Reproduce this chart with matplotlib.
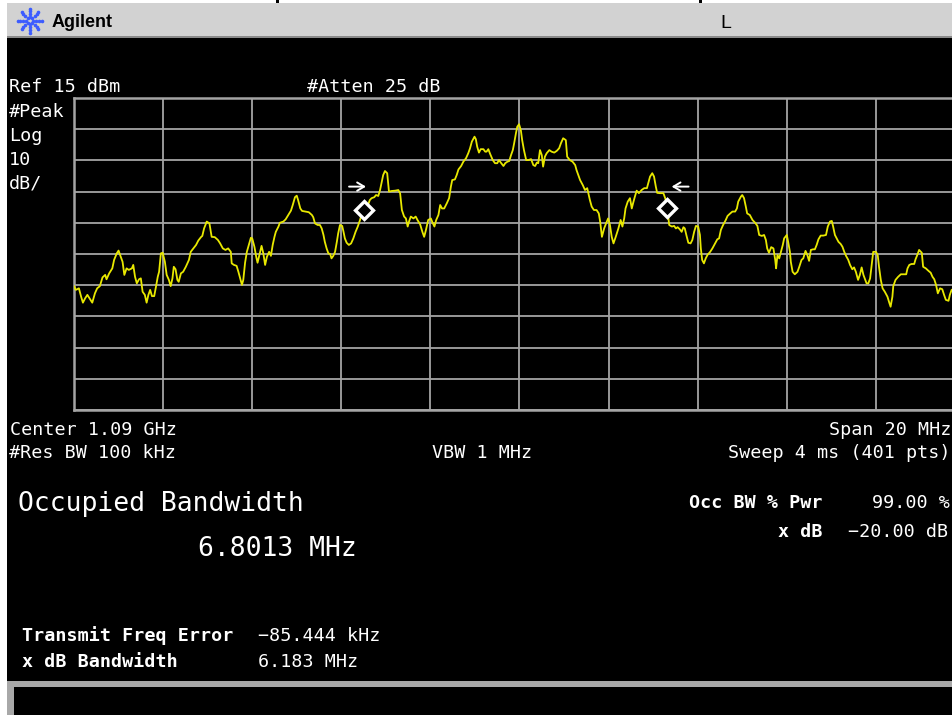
import numpy as np
import matplotlib
matplotlib.use("Agg")
import matplotlib.pyplot as plt
from matplotlib.patches import Rectangle
from matplotlib.lines import Line2D

# instrument settings (from the screen annotations)
center_ghz = 1.09
span_mhz = 20
ref_dbm = 15
db_per_div = 10
occ_bw_mhz = 6.8013
freq_err_khz = -85.444
xdb_bw_mhz = 6.183

# trace: offset from center (MHz) and level (dBm)
freq_mhz = [
    -10.00, -9.96, -9.89, -9.84, -9.80, -9.75, -9.70, -9.64, -9.59, -9.53,
    -9.48, -9.42, -9.36, -9.30, -9.27, -9.21, -9.14, -9.10, -9.04, -9.00,
    -8.95, -8.91, -8.87, -8.82, -8.77, -8.70, -8.67, -8.63, -8.59, -8.54,
    -8.50, -8.46, -8.41, -8.37, -8.33, -8.29, -8.25, -8.20, -8.16, -8.12,
    -8.09, -8.05, -8.01, -7.96, -7.92, -7.87, -7.83, -7.79, -7.76, -7.72,
    -7.68, -7.65, -7.60, -7.55, -7.49, -7.42, -7.38, -7.32, -7.26, -7.21,
    -7.15, -7.12, -7.08, -7.02, -6.96, -6.91, -6.84, -6.77, -6.72, -6.66,
    -6.60, -6.54, -6.48, -6.46, -6.41, -6.35, -6.31, -6.27, -6.23, -6.20,
    -6.16, -6.12, -6.07,
    -6.03, -6.00, -5.95, -5.91, -5.88, -5.83, -5.79, -5.75, -5.71, -5.67,
    -5.62, -5.58, -5.54, -5.50, -5.47, -5.41, -5.38, -5.30, -5.25, -5.19,
    -5.13, -5.09, -5.04, -5.00, -4.97, -4.92, -4.88, -4.81, -4.73, -4.66,
    -4.63, -4.59, -4.53, -4.48, -4.44, -4.40, -4.37, -4.33, -4.29, -4.25,
    -4.22, -4.18, -4.14, -4.10, -4.07, -4.03, -3.98, -3.95, -3.92, -3.88,
    -3.83, -3.78, -3.73, -3.68, -3.63, -3.58, -3.54, -3.47, -3.41, -3.36,
    -3.32, -3.26, -3.22, -3.17, -3.13, -3.09, -3.06, -3.02, -2.97, -2.93,
    -2.87, -2.79, -2.72, -2.68, -2.64, -2.59, -2.55, -2.51, -2.48, -2.44,
    -2.38, -2.33, -2.29, -2.23, -2.18, -2.14,
    -2.10, -2.05, -1.99, -1.95, -1.91, -1.87, -1.82, -1.78, -1.74, -1.69,
    -1.63, -1.58, -1.54, -1.51, -1.45, -1.41, -1.37, -1.31, -1.26, -1.20,
    -1.15, -1.11, -1.07, -1.01, -0.98, -0.95, -0.91, -0.87, -0.81, -0.77,
    -0.74, -0.70, -0.66, -0.60, -0.55, -0.50, -0.46, -0.42, -0.36, -0.32,
    -0.27, -0.23, -0.19, -0.15, -0.12, -0.08, -0.05, -0.01, 0.03, 0.06,
    0.10, 0.15, 0.20, 0.26, 0.31, 0.35, 0.39, 0.42, 0.46, 0.50,
    0.53, 0.57, 0.61, 0.67, 0.72, 0.78, 0.84, 0.89, 0.93, 0.98,
    1.04, 1.07, 1.13, 1.19, 1.25, 1.28, 1.32, 1.36, 1.42, 1.47,
    1.52, 1.58, 1.62, 1.67, 1.73, 1.78,
    1.81, 1.85, 1.90, 1.96, 1.99, 2.03, 2.07, 2.11, 2.16, 2.22,
    2.27, 2.31, 2.35, 2.38, 2.43, 2.48, 2.52, 2.55, 2.59, 2.63,
    2.68, 2.74, 2.80, 2.86, 2.89, 2.93, 2.98, 3.02, 3.06, 3.09,
    3.15, 3.23, 3.27, 3.30, 3.33, 3.36, 3.42, 3.47, 3.51, 3.55,
    3.60, 3.64, 3.68, 3.71, 3.75, 3.79, 3.84, 3.88, 3.92, 3.96,
    4.01, 4.05, 4.07, 4.10, 4.14, 4.18, 4.22, 4.28, 4.33, 4.39,
    4.44, 4.48, 4.52, 4.57, 4.63, 4.67, 4.73, 4.78, 4.84, 4.88,
    4.91, 4.97, 5.00, 5.04, 5.08, 5.11, 5.17, 5.23, 5.29, 5.34,
    5.38, 5.44, 5.49, 5.53, 5.56, 5.60,
    5.65, 5.70, 5.74, 5.76, 5.79, 5.83, 5.86, 5.91, 5.94, 6.00,
    6.03, 6.07, 6.09, 6.13, 6.18, 6.24, 6.28, 6.33, 6.37, 6.42,
    6.46, 6.50, 6.54, 6.59, 6.63, 6.67, 6.71, 6.76, 6.82, 6.88,
    6.92, 6.97, 7.01, 7.04, 7.08, 7.12, 7.16, 7.21, 7.25, 7.29,
    7.33, 7.38, 7.42, 7.47, 7.51, 7.55, 7.60, 7.64, 7.68, 7.72,
    7.76, 7.79, 7.83, 7.87, 7.91, 7.94, 8.00, 8.04, 8.07, 8.11,
    8.15, 8.20, 8.26, 8.30, 8.33, 8.37, 8.39, 8.44, 8.50, 8.56,
    8.61, 8.68, 8.71, 8.75, 8.80, 8.86, 8.89, 8.93, 8.97, 9.03,
    9.06, 9.12, 9.18, 9.23, 9.27, 9.31, 9.35, 9.39, 9.44, 9.49,
    9.53, 9.57, 9.63, 9.66, 9.70, 9.73,
]
level_dbm = [
    -45.3, -46.5, -46.0, -48.7, -50.6, -49.2, -48.1, -49.5, -50.6, -47.6,
    -46.0, -45.3, -42.5, -41.7, -43.1, -41.2, -39.6, -36.9, -34.8, -33.9,
    -35.9, -37.5, -41.7, -39.6, -40.1, -39.6, -38.5, -42.3, -44.4, -43.1,
    -42.8, -47.1, -48.1, -50.6, -48.1, -46.5, -48.5, -48.5, -45.5, -42.3,
    -40.7, -34.8, -34.6, -37.5, -41.7, -43.3, -45.3, -42.8, -39.1, -39.9,
    -43.3, -43.9, -41.2, -40.7, -39.1, -36.9, -34.3, -33.2, -32.1, -30.7,
    -29.6, -29.2, -26.8, -24.6, -25.2, -29.5, -29.6, -30.5, -31.6, -33.2,
    -33.7, -33.2, -34.3, -38.0, -38.5, -38.8, -40.7, -42.8, -44.9, -43.3,
    -37.8, -34.3, -31.8,
    -29.8, -30.0, -32.7, -35.9, -37.8, -34.8, -32.4, -34.8, -38.5, -35.9,
    -34.3, -35.6, -32.1, -29.5, -27.9, -26.2, -25.0, -24.6, -23.9, -22.5,
    -21.1, -19.3, -16.8, -16.3, -17.7, -20.4, -21.2, -21.4, -21.6, -22.5,
    -23.2, -25.2, -25.7, -25.7, -26.8, -28.9, -31.1, -33.2, -34.8, -35.0,
    -36.4, -35.6, -34.3, -31.1, -28.4, -25.7, -26.0, -27.9, -30.0, -31.4,
    -32.1, -31.6, -30.0, -27.9, -26.2, -24.1, -22.2, -20.4, -19.6, -17.7,
    -17.1, -16.8, -16.1, -16.4, -14.5, -11.8, -9.7, -8.4, -9.1, -15.0,
    -14.8, -14.7, -14.5, -15.5, -20.9, -23.0, -23.6, -26.2, -24.6, -23.0,
    -23.6, -23.0, -24.1, -25.5, -27.9, -29.5,
    -27.3, -24.1, -23.6, -25.0, -26.2, -24.1, -22.5, -19.3, -20.4, -20.4,
    -18.7, -17.1, -13.4, -11.3, -11.1, -9.7, -7.9, -6.8, -5.4, -4.3,
    -2.7, -1.1, 1.0, 2.6, 1.8, -0.6, -2.5, -1.4, -1.4, -2.2,
    -2.2, -1.4, -2.9, -4.9, -5.9, -5.9, -4.9, -5.7, -6.8, -5.9,
    -5.4, -5.2, -3.3, -1.7, 0.5, 3.7, 5.8, 6.6, 4.7, 1.5,
    -1.7, -4.9, -4.9, -4.6, -6.5, -6.8, -5.7, -5.9, -1.7, -3.3,
    -7.0, -3.8, -2.7, -1.7, -2.2, -2.5, -1.9, -1.1, 0.5, 2.1,
    1.5, -3.8, -4.9, -5.4, -6.5, -8.1, -9.7, -11.3, -12.9, -14.5,
    -13.9, -17.7, -19.8, -20.9, -20.9, -22.0,
    -24.6, -29.5, -26.8, -24.6, -23.6, -25.7, -29.5, -31.6, -29.5, -26.8,
    -24.1, -26.2, -23.6, -20.4, -18.2, -17.1, -20.4, -18.7, -16.6, -14.7,
    -15.5, -14.5, -13.9, -13.9, -12.3, -10.2, -9.1, -10.2, -13.4, -15.4,
    -15.5, -15.5, -17.1, -18.7, -22.0, -25.7, -26.2, -26.0, -26.8, -26.4,
    -27.1, -27.9, -26.4, -26.8, -29.2, -31.4, -31.6, -30.5, -27.9, -26.0,
    -26.2, -28.9, -33.2, -36.9, -38.0, -36.4, -35.3, -34.3, -33.2, -31.6,
    -30.3, -30.0, -27.3, -25.7, -24.1, -22.8, -22.0, -21.4, -21.4, -20.4,
    -18.2, -16.6, -16.1, -17.1, -19.8, -22.0, -22.5, -24.1, -25.0, -26.0,
    -28.9, -29.2, -28.9, -30.5, -33.2, -34.6,
    -32.8, -33.2, -36.9, -39.6, -35.3, -36.4, -34.8, -32.1, -30.0, -28.9,
    -31.1, -34.3, -37.5, -40.7, -41.5, -40.7, -39.1, -36.9, -36.4, -34.0,
    -35.3, -37.2, -33.7, -33.5, -33.5, -32.1, -30.3, -29.1, -29.1, -28.9,
    -26.2, -24.6, -24.4, -26.2, -28.9, -30.0, -31.1, -31.8, -32.7, -34.3,
    -35.6, -36.9, -38.5, -39.9, -39.3, -40.7, -43.3, -41.7, -39.3, -41.7,
    -43.3, -44.4, -44.4, -42.8, -38.0, -34.3, -34.3, -35.3, -39.1, -43.3,
    -46.0, -47.1, -48.7, -50.6, -51.9, -48.7, -45.3, -43.3, -42.3, -41.5,
    -41.5, -41.5, -39.6, -38.5, -38.2, -38.2, -36.7, -35.3, -33.7, -34.6,
    -39.1, -39.6, -40.4, -41.0, -42.3, -43.1, -44.9, -47.6, -46.0, -46.3,
    -48.1, -49.7, -50.0, -48.1, -46.5, -46.3,
]

W, H = 953, 715
MONO = "DejaVu Sans Mono"


def fx(x):
    return x / W


def fy(y):
    return 1 - y / H


def box(x0, y0, x1, y1, color, z=-10):
    fig.add_artist(Rectangle((fx(x0), fy(y1)), (x1 - x0) / W, (y1 - y0) / H,
                             transform=fig.transFigure, facecolor=color,
                             edgecolor="none", zorder=z))


def put(x, y, s, size=13.2, weight="normal", ha="left", color="white", family=MONO):
    fig.text(fx(x), fy(y), s, fontsize=size, fontweight=weight, ha=ha,
             va="baseline", color=color, family=family)


fig = plt.figure(figsize=(W / 100, H / 100), dpi=100, facecolor="white")

# screen frame
box(7, 3, W, 37, "#d2d2d2")
box(7, 36, W, 38, "#8a8a8a")
box(7, 38, W, 681, "black")
box(7, 681, W, H, "#a8a8a8")
box(14, 687, W, H, "black")
box(276, 0, 279, 3, "black")
box(699, 0, 702, 3, "black")

# header: logo + brand
cx, cy = 30, 20.5
for ang in np.arange(0, 360, 45):
    for r in (3.5, 6.5, 9.5, 12):
        px = cx + r * np.cos(np.radians(ang))
        py = cy + r * np.sin(np.radians(ang))
        fig.add_artist(Line2D([fx(px)], [fy(py)], marker="o", ms=1.6,
                              color="#3d5cff", transform=fig.transFigure))
put(52, 27, "Agilent", size=13, weight="bold", color="black", family="Liberation Sans")
put(720, 28, "L", size=14, color="black", family="Liberation Sans")

# graticule / trace
x_left, x_right = 74, 965
y_top, y_bot = 98, 410
ax = fig.add_axes([fx(x_left), fy(y_bot), (x_right - x_left) / W, (y_bot - y_top) / H])
ax.set_facecolor("black")
ax.set_xlim(-span_mhz / 2, span_mhz / 2)
ax.set_ylim(ref_dbm - 10 * db_per_div, ref_dbm)
ax.set_xticks(np.arange(-span_mhz / 2, span_mhz / 2 + 0.1, span_mhz / 10))
ax.set_yticks(np.arange(ref_dbm - 10 * db_per_div, ref_dbm + 1, db_per_div))
ax.tick_params(length=0, labelbottom=False, labelleft=False)
ax.grid(True, color="#a4a4a4", lw=1.3)
for sp in ax.spines.values():
    sp.set_color("#a4a4a4")
    sp.set_linewidth(1.8)

ax.plot(freq_mhz, level_dbm, color="#e8e800", lw=1.3, zorder=3)

# occupied bandwidth markers
f_off = freq_err_khz / 1000
f_lo = f_off - occ_bw_mhz / 2
f_hi = f_off + occ_bw_mhz / 2
for f in (f_lo, f_hi):
    ax.plot(f, np.interp(f, freq_mhz, level_dbm), marker="D", ms=9,
            mfc="black", mec="white", mew=2.4, zorder=4)
arrow_y = -13.4
arrow_kw = dict(arrowstyle="->,head_length=0.5,head_width=0.3", color="white",
                lw=1.4, shrinkA=0, shrinkB=0)
ax.annotate("", xy=(f_lo + 0.04, arrow_y), xytext=(f_lo - 0.34, arrow_y),
            arrowprops=arrow_kw)
ax.annotate("", xy=(f_hi + 0.1, arrow_y), xytext=(f_hi + 0.48, arrow_y),
            arrowprops=arrow_kw)

# screen annotations
put(9, 91.5, f"Ref {ref_dbm} dBm")
put(307, 91.5, "#Atten 25 dB")
put(9, 117, "#Peak")
put(9, 141, "Log")
put(9, 165, f"{db_per_div}")
put(9, 189, "dB/")
put(10, 435, f"Center {center_ghz} GHz")
put(951, 435, f"Span {span_mhz} MHz", ha="right")
put(9, 458, "#Res BW 100 kHz")
put(432, 458, "VBW 1 MHz")
put(951, 458, "Sweep 4 ms (401 pts)", ha="right")

put(18, 511, "Occupied Bandwidth", size=19)
put(198, 556, f"{occ_bw_mhz:.4f} MHz", size=19)

put(823, 508, "Occ BW % Pwr", weight="bold", ha="right")
put(950, 508, "99.00 %", ha="right")
put(823, 537, "x dB", weight="bold", ha="right")
put(848, 537, "\u221220.00 dB")

put(22, 641, "Transmit Freq Error", weight="bold")
put(258, 641, f"\u2212{abs(freq_err_khz):.3f} kHz")
put(22, 667, "x dB Bandwidth", weight="bold")
put(258, 667, f"{xdb_bw_mhz:.3f} MHz")

fig.savefig("out.png", dpi=100, facecolor="white")
